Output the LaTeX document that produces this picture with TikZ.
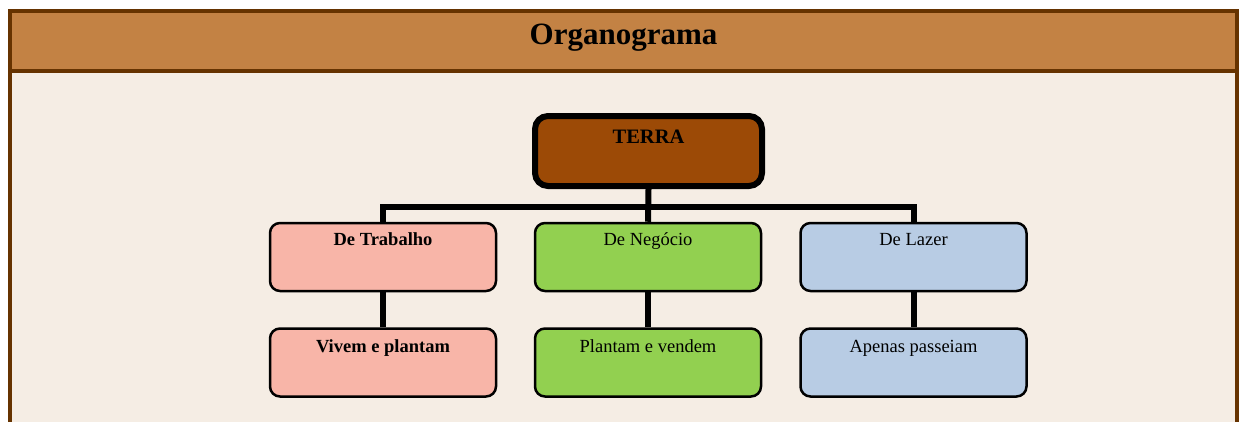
\documentclass[tikz,border=0pt]{standalone}
\usepackage{fontspec}
\setmainfont{Liberation Serif}
\definecolor{frameC}{HTML}{663300}
\definecolor{headC}{HTML}{C38244}
\definecolor{bodyC}{HTML}{F5EDE4}
\definecolor{terraC}{HTML}{9C4A06}
\definecolor{pinkC}{HTML}{F8B5A8}
\definecolor{greenC}{HTML}{92D050}
\definecolor{blueC}{HTML}{B8CCE4}
\tikzset{
  box/.style={draw=black, line width=2.5pt, rounded corners=10pt, inner sep=0pt,
    minimum width=226pt, minimum height=68pt},
  topbox/.style={draw=black, line width=6pt, rounded corners=13pt, inner sep=0pt,
    minimum width=227pt, minimum height=70pt, fill=terraC},
  lbl/.style={anchor=base, inner sep=0pt, font=\fontsize{18.5}{22}\selectfont},
  conn/.style={draw=black, line width=6pt},
}
\begin{document}
\begin{tikzpicture}[x=1pt,y=-1pt]
\useasboundingbox (0,0) rectangle (1239,421);
\clip (0,0) rectangle (1239,421);
% frame
\fill[headC] (10,11) rectangle (1237,70);
\fill[bodyC] (10,70) rectangle (1237,430);
\draw[frameC, line width=4pt] (10,430) -- (10,11) -- (1237,11) -- (1237,430);
\draw[frameC, line width=4pt] (10,70.5) -- (1237,70.5);
\node[anchor=base, inner sep=0pt, font=\fontsize{31}{36}\selectfont\bfseries] (title) at (623.5,44) {Organograma};
% boxes
\node[topbox] (terra) at (648.5,151) {};
\node[box, fill=pinkC] (trab) at (383,257) {};
\node[box, fill=greenC] (neg) at (648,257) {};
\node[box, fill=blueC] (laz) at (913.5,257) {};
\node[box, fill=pinkC] (viv) at (383,362.5) {};
\node[box, fill=greenC] (plan) at (648,362.5) {};
\node[box, fill=blueC] (ape) at (913.5,362.5) {};
\coordinate (bus) at (648,207);
% connectors
\draw[conn] (terra.south) -- (neg.north);
\draw[conn] (trab.north) -- (trab.north |- bus) -- (laz.north |- bus) -- (laz.north);
\draw[conn] (trab.south) -- (viv.north);
\draw[conn] (neg.south) -- (plan.north);
\draw[conn] (laz.south) -- (ape.north);
% labels
\node[lbl, font=\fontsize{20.5}{24}\selectfont\bfseries] (tterra) at ([yshift=-30]terra.north) {TERRA};
\node[lbl, font=\fontsize{18.5}{22}\selectfont\bfseries] (ttrab) at ([yshift=-24]trab.north) {De Trabalho};
\node[lbl] (tneg) at ([yshift=-24]neg.north) {De Negócio};
\node[lbl] (tlaz) at ([yshift=-24]laz.north) {De Lazer};
\node[lbl, font=\fontsize{18.5}{22}\selectfont\bfseries] (tviv) at ([yshift=-25]viv.north) {Vivem e plantam};
\node[lbl] (tplan) at ([yshift=-25]plan.north) {Plantam e vendem};
\node[lbl] (tape) at ([yshift=-25]ape.north) {Apenas passeiam};
\end{tikzpicture}
\end{document}
